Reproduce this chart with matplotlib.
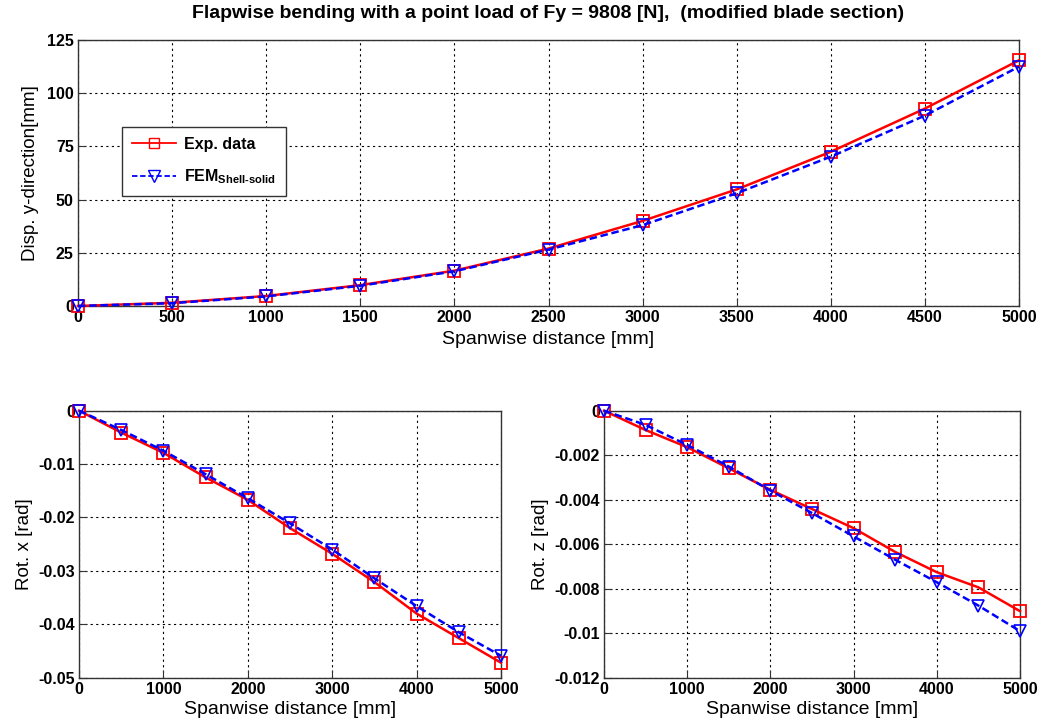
import matplotlib
matplotlib.use("Agg")
import matplotlib.pyplot as plt
from matplotlib.lines import Line2D

plt.rcParams['font.family'] = ['Liberation Sans', 'DejaVu Sans']
plt.rcParams['mathtext.fontset'] = 'custom'
plt.rcParams['mathtext.rm'] = 'Liberation Sans:bold'
plt.rcParams['mathtext.bf'] = 'Liberation Sans:bold'

span = [0, 500, 1000, 1500, 2000, 2500, 3000, 3500, 4000, 4500, 5000]

disp_exp = [0, 1.5, 4.7, 9.8, 16.6, 27.0, 40.0, 54.8, 72.5, 92.8, 115.5]
disp_fem = [0, 1.3, 4.5, 9.5, 16.3, 26.5, 38.0, 53.0, 70.2, 89.5, 112.5]

rotx_exp = [0, -0.0041, -0.0079, -0.0125, -0.0167, -0.0220, -0.0268, -0.0321, -0.0380, -0.0426, -0.0472]
rotx_fem = [0, -0.0036, -0.0075, -0.0119, -0.0164, -0.0211, -0.0260, -0.0314, -0.0366, -0.0415, -0.0459]

rotz_exp = [0, -0.00087, -0.00164, -0.00259, -0.00356, -0.00442, -0.00528, -0.00635, -0.00726, -0.00794, -0.00901]
rotz_fem = [0, -0.00064, -0.00154, -0.00251, -0.00359, -0.00460, -0.00565, -0.00670, -0.00771, -0.00876, -0.00991]

title = "Flapwise bending with a point load of Fy = 9808 [N],  (modified blade section)"
xlabel = "Spanwise distance [mm]"

fig = plt.figure(figsize=(10.41, 7.22), dpi=100)
ax1 = fig.add_axes([0.0749, 0.5762, 0.9041, 0.3684])
ax2 = fig.add_axes([0.0759, 0.0614, 0.4054, 0.3698])
ax3 = fig.add_axes([0.5802, 0.0614, 0.3996, 0.3698])

spine_col = '#333333'

def style(ax, xt, yt, ylim, ylabels, xlpad):
    ax.set_xlim(0, 5000)
    ax.set_ylim(*ylim)
    ax.set_xticks(xt)
    ax.set_yticks(yt)
    ax.set_yticklabels(ylabels)
    ax.grid(True, color='black', linestyle=(0, (2, 3)), linewidth=0.8)
    ax.tick_params(direction='in', length=6, width=0.8, color=spine_col, labelsize=11.5, pad=3)
    for lbl in ax.get_xticklabels() + ax.get_yticklabels():
        lbl.set_fontweight('bold')
    for s in ax.spines.values():
        s.set_color(spine_col)
        s.set_linewidth(1.0)
    ax.set_xlabel(xlabel, fontsize=14, labelpad=xlpad)

def plot_pair(ax, e, f, ms=8):
    ax.plot(span, e, color='red', linestyle='-', linewidth=1.8, marker='s', markersize=ms,
            markerfacecolor='none', markeredgecolor='red', markeredgewidth=1.3, clip_on=False, zorder=3)
    ax.plot(span, f, color='blue', linestyle=(0, (3, 1.5)), linewidth=1.8, marker='v', markersize=ms + 1,
            markerfacecolor='none', markeredgecolor='blue', markeredgewidth=1.2, clip_on=False, zorder=4)

plot_pair(ax1, disp_exp, disp_fem)
style(ax1, range(0, 5001, 500), [0, 25, 50, 75, 100, 125], (0, 125),
      ['0', '25', '50', '75', '100', '125'], 4)
ax1.set_ylabel("Disp. y-direction[mm]", fontsize=13.5, labelpad=6)
ax1.set_title(title, fontsize=14, fontweight='bold', pad=16)

h1 = Line2D([], [], color='red', linestyle='-', linewidth=1.3, marker='s', markersize=7,
            markerfacecolor='none', markeredgecolor='red')
h2 = Line2D([], [], color='blue', linestyle=(0, (3, 1.5)), linewidth=1.3, marker='v', markersize=8,
            markerfacecolor='none', markeredgecolor='blue')
leg = ax1.legend([h1, h2], ['Exp. data', r'FEM$_{\mathrm{Shell}\text{-}\mathrm{solid}}$'],
                 loc='lower left', bbox_to_anchor=(0.0468, 0.4135, 0.174, 0.297), mode='expand',
                 fancybox=False, framealpha=1, edgecolor='#333333', borderaxespad=0,
                 handlelength=2.8, handletextpad=0.5, labelspacing=1.0, borderpad=0.6,
                 prop={'weight': 'bold', 'size': 11.5})
leg.get_frame().set_linewidth(1.0)

plot_pair(ax2, rotx_exp, rotx_fem)
style(ax2, range(0, 5001, 1000), [-0.05, -0.04, -0.03, -0.02, -0.01, 0], (-0.05, 0),
      ['-0.05', '-0.04', '-0.03', '-0.02', '-0.01', '0'], 3)
ax2.set_ylabel("Rot. x [rad]", fontsize=13.5, labelpad=4)

plot_pair(ax3, rotz_exp, rotz_fem)
style(ax3, range(0, 5001, 1000), [-0.012, -0.01, -0.008, -0.006, -0.004, -0.002, 0], (-0.012, 0),
      ['-0.012', '-0.01', '-0.008', '-0.006', '-0.004', '-0.002', '0'], 3)
ax3.set_ylabel("Rot. z [rad]", fontsize=13.5, labelpad=4)

fig.savefig("out.png", dpi=100)
